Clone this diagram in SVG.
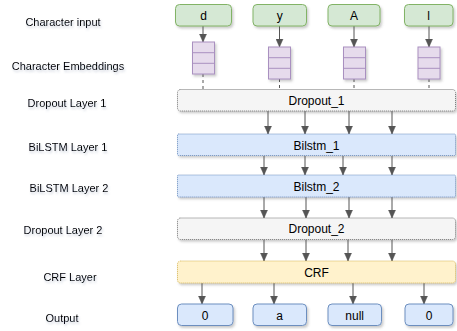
<svg xmlns="http://www.w3.org/2000/svg" width="457" height="331" viewBox="0 0 457 331">
<defs>
<filter id="sh" x="-10%" y="-20%" width="130%" height="160%">
<feDropShadow dx="1.5" dy="2" stdDeviation="1" flood-color="#555" flood-opacity="0.3"/>
</filter>
<filter id="tsh" x="-10%" y="-30%" width="130%" height="180%">
<feDropShadow dx="1" dy="2" stdDeviation="1.2" flood-color="#6a7a99" flood-opacity="0.35"/>
</filter>
<marker id="ah" viewBox="0 0 8 8" refX="8" refY="4" markerWidth="8" markerHeight="8" markerUnits="userSpaceOnUse" orient="auto">
<path d="M0,0.5 L8,4 L0,7.5 z" fill="#555" stroke="#555" stroke-width="0.5"/>
</marker>
</defs>
<style>
text{font-family:"Liberation Sans",Arial,Helvetica,sans-serif;fill:#000;}
.lbl{font-size:11px;text-anchor:middle;filter:url(#tsh);}
.nt{font-size:12px;text-anchor:middle;}
.inp{fill:#d5e8d4;stroke:#82b366;stroke-width:1;filter:url(#sh);}
.out{fill:#dae8fc;stroke:#6c8ebf;stroke-width:1;filter:url(#sh);}
.emb rect{fill:#e6dbec;stroke:#a990c0;stroke-width:1;}
.emb line{stroke:#a990c0;stroke-width:1;}
.emb{filter:url(#sh);}
.drop{fill:#f5f5f5;stroke:#777;stroke-width:1;stroke-dasharray:1 1;filter:url(#sh);}
.lstm{fill:#dae8fc;stroke:#6c8ebf;stroke-width:1;stroke-dasharray:1 1;filter:url(#sh);}
.crf{fill:#fff2cc;stroke:#d6b656;stroke-width:1;stroke-dasharray:1 1;filter:url(#sh);}
.c{stroke:#555;stroke-width:1;fill:none;marker-end:url(#ah);}
.d{stroke:#555;stroke-width:1;fill:none;stroke-dasharray:3 3;}
</style>

<g id="labels">
<text class="lbl" x="63" y="25.5">Character input</text>
<text class="lbl" x="68" y="69.5">Character Embeddings</text>
<text class="lbl" x="67" y="106.5">Dropout Layer 1</text>
<text class="lbl" x="68" y="150.5">BiLSTM Layer 1</text>
<text class="lbl" x="69" y="192">BiLSTM Layer 2</text>
<text class="lbl" x="63" y="234">Dropout Layer 2</text>
<text class="lbl" x="70" y="280.5">CRF Layer</text>
<text class="lbl" x="62" y="322">Output</text>
</g>

<g id="connectors">
<line class="c" x1="203" y1="26" x2="203" y2="42"/>
<line class="c" x1="279.5" y1="26" x2="279.5" y2="47"/>
<line class="c" x1="354" y1="26" x2="354" y2="47"/>
<line class="c" x1="429" y1="26" x2="429" y2="47"/>
<line class="d" x1="203" y1="74" x2="203" y2="89"/>
<line class="d" x1="279.5" y1="79" x2="279.5" y2="89"/>
<line class="d" x1="354" y1="79" x2="354" y2="89"/>
<line class="d" x1="429" y1="79" x2="429" y2="89"/>

<line class="c" x1="268" y1="111" x2="268" y2="134"/>
<line class="c" x1="305" y1="111" x2="305" y2="134"/>
<line class="c" x1="349" y1="111" x2="349" y2="134"/>
<line class="c" x1="392" y1="111" x2="392" y2="134"/>

<line class="c" x1="264" y1="156" x2="264" y2="175"/>
<line class="c" x1="305" y1="156" x2="305" y2="175"/>
<line class="c" x1="343" y1="156" x2="343" y2="175"/>
<line class="c" x1="392" y1="156" x2="392" y2="175"/>

<line class="c" x1="264" y1="197" x2="264" y2="218"/>
<line class="c" x1="306" y1="197" x2="306" y2="218"/>
<line class="c" x1="349" y1="197" x2="349" y2="218"/>
<line class="c" x1="392" y1="197" x2="392" y2="218"/>

<line class="c" x1="264" y1="239" x2="264" y2="261"/>
<line class="c" x1="306" y1="239" x2="306" y2="261"/>
<line class="c" x1="348" y1="239" x2="348" y2="261"/>
<line class="c" x1="392" y1="239" x2="392" y2="261"/>

<line class="c" x1="202" y1="283" x2="202" y2="304"/>
<line class="c" x1="274" y1="283" x2="274" y2="304"/>
<line class="c" x1="353" y1="283" x2="353" y2="304"/>
<line class="c" x1="424" y1="283" x2="424" y2="304"/>
</g>

<g id="in-d"><rect class="inp" x="175.5" y="4.5" width="56" height="21.5" rx="4"/><text class="nt" x="203.5" y="19.5">d</text></g>
<g id="in-y"><rect class="inp" x="253" y="4.5" width="53.5" height="21.5" rx="4"/><text class="nt" x="279.7" y="19.5">y</text></g>
<g id="in-A"><rect class="inp" x="328" y="4.5" width="52" height="21.5" rx="4"/><text class="nt" x="354" y="19.5">A</text></g>
<g id="in-l"><rect class="inp" x="404.5" y="4.5" width="48.5" height="21.5" rx="4"/><text class="nt" x="428.7" y="19.5">l</text></g>

<g id="emb-d" class="emb"><rect x="192.5" y="42" width="22" height="32"/><line x1="192.5" y1="52.7" x2="214.5" y2="52.7"/><line x1="192.5" y1="63.3" x2="214.5" y2="63.3"/></g>
<g id="emb-y" class="emb"><rect x="268.5" y="47" width="22" height="32"/><line x1="268.5" y1="57.7" x2="290.5" y2="57.7"/><line x1="268.5" y1="68.3" x2="290.5" y2="68.3"/></g>
<g id="emb-A" class="emb"><rect x="343.5" y="47" width="22" height="32"/><line x1="343.5" y1="57.7" x2="365.5" y2="57.7"/><line x1="343.5" y1="68.3" x2="365.5" y2="68.3"/></g>
<g id="emb-l" class="emb"><rect x="418" y="47" width="22" height="32"/><line x1="418" y1="57.7" x2="440" y2="57.7"/><line x1="418" y1="68.3" x2="440" y2="68.3"/></g>

<g id="dropout1"><rect class="drop" x="177.5" y="89.5" width="278" height="21.5" rx="3"/><text class="nt" x="316.5" y="105">Dropout_1</text></g>
<g id="bilstm1"><rect class="lstm" x="177.5" y="134" width="278" height="21.5" rx="1"/><text class="nt" x="316.5" y="149.5">Bilstm_1</text></g>
<g id="bilstm2"><rect class="lstm" x="177.5" y="175" width="278" height="22" rx="1"/><text class="nt" x="316.5" y="190.5">Bilstm_2</text></g>
<g id="dropout2"><rect class="drop" x="177.5" y="218" width="278" height="21.5" rx="3"/><text class="nt" x="316.5" y="233">Dropout_2</text></g>
<g id="crf"><rect class="crf" x="177.5" y="261" width="278" height="22" rx="3"/><text class="nt" x="316.5" y="276.5">CRF</text></g>

<g id="out-0a"><rect class="out" x="177.5" y="304" width="55.5" height="21.5" rx="4"/><text class="nt" x="205" y="319.5">0</text></g>
<g id="out-a"><rect class="out" x="253" y="304" width="53.5" height="21.5" rx="4"/><text class="nt" x="279.7" y="319.5">a</text></g>
<g id="out-null"><rect class="out" x="328" y="304" width="53.5" height="21.5" rx="4"/><text class="nt" x="354.7" y="319.5">null</text></g>
<g id="out-0b"><rect class="out" x="405" y="304" width="48" height="21.5" rx="4"/><text class="nt" x="429" y="319.5">0</text></g>
</svg>
